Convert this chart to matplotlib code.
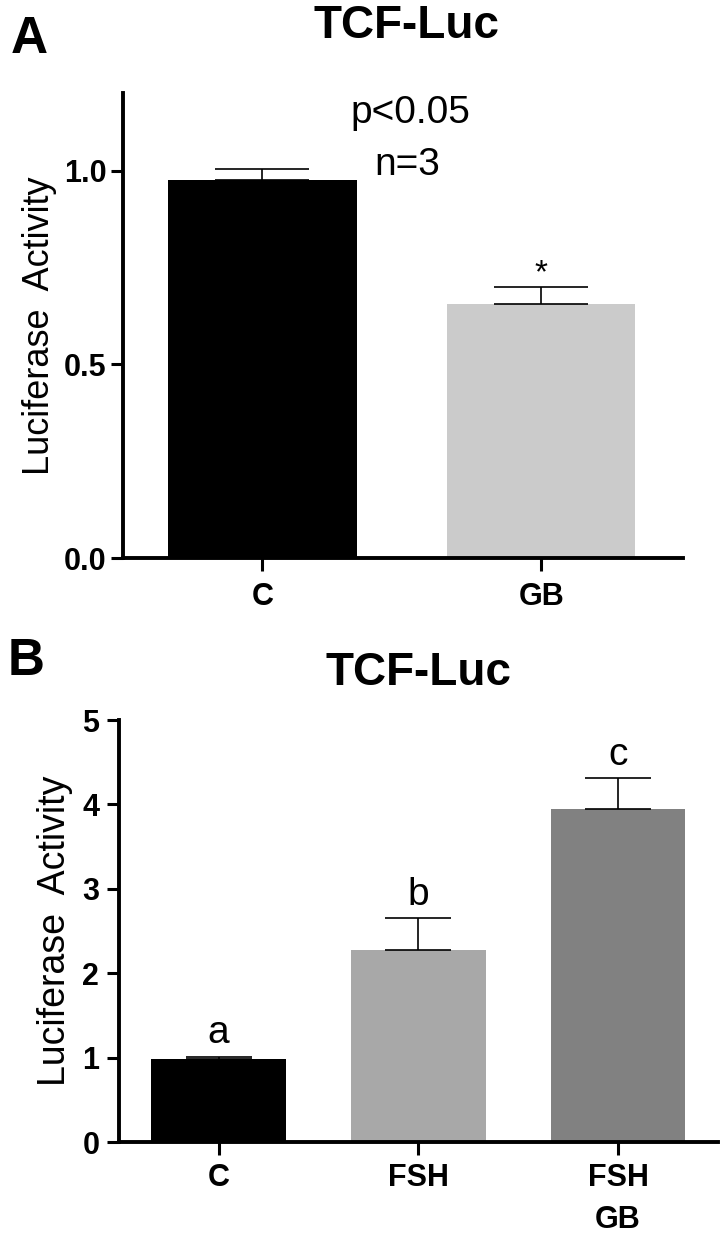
import matplotlib
matplotlib.use("Agg")
import matplotlib.pyplot as plt

plt.rcParams['font.family'] = ['Liberation Sans', 'DejaVu Sans']

# panel A data
groups_a = ["C", "GB"]
values_a = [0.977, 0.655]
errors_a = [0.028, 0.046]
colors_a = ["#000000", "#cbcbcb"]

# panel B data
groups_b = ["C", "FSH", "FSH\nGB"]
values_b = [0.98, 2.28, 3.95]
errors_b = [0.03, 0.37, 0.36]
colors_b = ["#000000", "#a8a8a8", "#818181"]
letters_b = ["a", "b", "c"]

fig = plt.figure(figsize=(7.2, 12.35), dpi=100)


def style_axes(ax, lab_size):
    for s in ["top", "right"]:
        ax.spines[s].set_visible(False)
    for s in ["left", "bottom"]:
        ax.spines[s].set_linewidth(2.8)
    ax.tick_params(axis="both", width=2.2, length=9, labelsize=lab_size)
    for lab in ax.get_xticklabels() + ax.get_yticklabels():
        lab.set_fontweight("bold")


# ---- panel A ----
axa = fig.add_axes([0.171, 0.548, 0.778, 0.3765])
xa = list(range(len(groups_a)))
axa.bar(xa, values_a, width=0.675, color=colors_a, zorder=2)
axa.errorbar(xa, values_a, yerr=[[0] * len(errors_a), errors_a], fmt="none",
             ecolor="black", elinewidth=1.2, capsize=33.5, capthick=1.2, zorder=3)
axa.set_xlim(-0.5, 1.51)
axa.set_ylim(0, 1.2)
axa.set_yticks([0, 0.5, 1.0])
axa.set_yticklabels(["0.0", "0.5", "1.0"])
axa.set_xticks(xa)
axa.set_xticklabels(groups_a)
axa.set_ylabel("Luciferase  Activity", fontsize=26, labelpad=5)
style_axes(axa, 22)
axa.tick_params(axis="x", pad=8)
axa.tick_params(axis="y", pad=3)
axa.text(0.53, 1.15, "p<0.05", ha="center", va="center", fontsize=28)
axa.text(0.52, 1.015, "n=3", ha="center", va="center", fontsize=28)
axa.text(xa[1], 0.735, "*", ha="center", va="center", fontsize=24)

fig.text(0.564, 0.979, "TCF-Luc", ha="center", va="center", fontsize=33, fontweight="bold")
fig.text(0.015, 0.968, "A", ha="left", va="center", fontsize=37, fontweight="bold")

# ---- panel B ----
axb = fig.add_axes([0.165, 0.0753, 0.832, 0.3417])
xb = list(range(len(groups_b)))
axb.bar(xb, values_b, width=0.675, color=colors_b, zorder=2)
axb.errorbar(xb, values_b, yerr=[[0] * len(errors_b), errors_b], fmt="none",
             ecolor="black", elinewidth=1.2, capsize=24, capthick=1.2, zorder=3)
axb.set_xlim(-0.5, 2.5)
axb.set_ylim(0, 5)
axb.set_yticks([0, 1, 2, 3, 4, 5])
axb.set_xticks(xb)
axb.set_xticklabels(groups_b, linespacing=1.55)
axb.set_ylabel("Luciferase  Activity", fontsize=27, labelpad=7)
style_axes(axb, 22)
axb.tick_params(axis="x", pad=6)
axb.tick_params(axis="y", pad=5)
for x, v, e, t in zip(xb, values_b, errors_b, letters_b):
    axb.text(x, v + e + 0.28, t, ha="center", va="center", fontsize=28)

fig.text(0.581, 0.455, "TCF-Luc", ha="center", va="center", fontsize=33, fontweight="bold")
fig.text(0.010, 0.464, "B", ha="left", va="center", fontsize=37, fontweight="bold")

fig.savefig("out.png", dpi=100)
